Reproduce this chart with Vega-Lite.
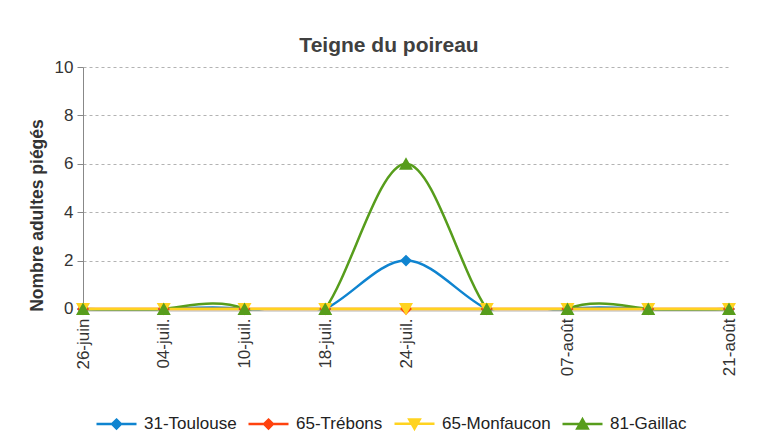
{
  "$schema": "https://vega.github.io/schema/vega-lite/v6.json",
  "width": 646,
  "height": 243.5,
  "autosize": {"type": "none"},
  "padding": {"left": 83, "top": 67, "right": 28, "bottom": 135.5},
  "background": "white",
  "title": {
    "text": "Teigne du poireau",
    "font": "Liberation Sans",
    "fontSize": 21,
    "fontWeight": "bold",
    "color": "#404040",
    "anchor": "middle",
    "dx": -17,
    "offset": 2
  },
  "config": {
    "view": {"stroke": null},
    "font": "Liberation Sans"
  },
  "data": {
    "values": [
      {"date": "26-juin", "series": "31-Toulouse", "value": 0},
      {"date": "04-juil.", "series": "31-Toulouse", "value": 0},
      {"date": "10-juil.", "series": "31-Toulouse", "value": 0},
      {"date": "18-juil.", "series": "31-Toulouse", "value": 0},
      {"date": "24-juil.", "series": "31-Toulouse", "value": 2},
      {"date": "31-juil.", "series": "31-Toulouse", "value": 0},
      {"date": "07-août", "series": "31-Toulouse", "value": 0},
      {"date": "14-août", "series": "31-Toulouse", "value": 0},
      {"date": "21-août", "series": "31-Toulouse", "value": 0},
      {"date": "26-juin", "series": "65-Trébons", "value": 0},
      {"date": "04-juil.", "series": "65-Trébons", "value": 0},
      {"date": "10-juil.", "series": "65-Trébons", "value": 0},
      {"date": "18-juil.", "series": "65-Trébons", "value": 0},
      {"date": "24-juil.", "series": "65-Trébons", "value": 0},
      {"date": "31-juil.", "series": "65-Trébons", "value": 0},
      {"date": "07-août", "series": "65-Trébons", "value": 0},
      {"date": "14-août", "series": "65-Trébons", "value": 0},
      {"date": "21-août", "series": "65-Trébons", "value": 0},
      {"date": "26-juin", "series": "65-Monfaucon", "value": 0},
      {"date": "04-juil.", "series": "65-Monfaucon", "value": 0},
      {"date": "10-juil.", "series": "65-Monfaucon", "value": 0},
      {"date": "18-juil.", "series": "65-Monfaucon", "value": 0},
      {"date": "24-juil.", "series": "65-Monfaucon", "value": 0},
      {"date": "31-juil.", "series": "65-Monfaucon", "value": 0},
      {"date": "07-août", "series": "65-Monfaucon", "value": 0},
      {"date": "14-août", "series": "65-Monfaucon", "value": 0},
      {"date": "21-août", "series": "65-Monfaucon", "value": 0},
      {"date": "26-juin", "series": "81-Gaillac", "value": 0},
      {"date": "04-juil.", "series": "81-Gaillac", "value": 0},
      {"date": "10-juil.", "series": "81-Gaillac", "value": 0},
      {"date": "18-juil.", "series": "81-Gaillac", "value": 0},
      {"date": "24-juil.", "series": "81-Gaillac", "value": 6},
      {"date": "31-juil.", "series": "81-Gaillac", "value": 0},
      {"date": "07-août", "series": "81-Gaillac", "value": 0},
      {"date": "14-août", "series": "81-Gaillac", "value": 0},
      {"date": "21-août", "series": "81-Gaillac", "value": 0}
    ]
  },
  "encoding": {
    "x": {
      "field": "date",
      "type": "ordinal",
      "sort": null,
      "scale": {"type": "point", "padding": 0},
      "axis": {
        "title": null,
        "labelAngle": -90,
        "labelFontSize": 17,
        "labelColor": "#333333",
        "labelPadding": 7.5,
        "ticks": false,
        "domainColor": "#b3b3b3",
        "grid": false,
        "labelExpr": "datum.label == '31-juil.' || datum.label == '14-août' ? '' : datum.label"
      }
    },
    "y": {
      "field": "value",
      "type": "quantitative",
      "scale": {"domain": [-0.062, 10], "nice": false, "zero": false},
      "axis": {
        "title": "Nombre adultes piégés",
        "titleFontSize": 17.5,
        "titleFontWeight": "bold",
        "titleColor": "#333333",
        "titleX": -37,
        "titleY": 148,
        "titleAngle": -90,
        "titleBaseline": "bottom",
        "values": [0, 2, 4, 6, 8, 10],
        "labelFontSize": 17,
        "labelColor": "#333333",
        "labelPadding": 4,
        "tickSize": 6,
        "tickColor": "#888888",
        "domainColor": "#888888",
        "gridColor": "#b3b3b3",
        "gridDash": [3, 3],
        "gridWidth": 1
      }
    },
    "color": {
      "field": "series",
      "type": "nominal",
      "scale": {
        "domain": ["31-Toulouse", "65-Trébons", "65-Monfaucon", "81-Gaillac"],
        "range": ["#0f84d0", "#ff420e", "#ffd320", "#579d1c"]
      }
    }
  },
  "layer": [
    {
      "mark": {"type": "line", "interpolate": "natural", "strokeWidth": 2.5, "clip": true}
    },
    {
      "transform": [{"filter": "datum.series == '65-Monfaucon'"}],
      "mark": {"type": "line", "interpolate": "natural", "strokeWidth": 2.5, "clip": true}
    },
    {
      "mark": {"type": "point", "filled": true, "opacity": 1, "size": 2900, "strokeWidth": 0},
      "encoding": {
        "shape": {
          "field": "series",
          "type": "nominal",
          "legend": null,
          "scale": {
            "domain": ["31-Toulouse", "65-Trébons", "65-Monfaucon", "81-Gaillac"],
            "range": [
              "M-1,0L1,0M0,-0.22L0.22,0L0,0.22L-0.22,0Z",
              "M-1,0L1,0M0,-0.22L0.22,0L0,0.22L-0.22,0Z",
              "M-1,0L1,0M0,0.24L0.26,-0.22L-0.26,-0.22Z",
              "M-1,0L1,0M0,-0.24L0.26,0.22L-0.26,0.22Z"
            ]
          }
        },
        "color": {
          "field": "series",
          "type": "nominal",
          "legend": {
            "title": null,
            "orient": "none",
            "direction": "horizontal",
            "legendX": 12,
            "legendY": 335,
            "labelFontSize": 17,
            "labelColor": "#222222",
            "labelOffset": 6,
            "columnPadding": 6,
            "symbolSize": 1600,
            "symbolStrokeWidth": 2.5,
            "encode": {
              "symbols": {
                "update": {
                  "stroke": {"signal": "scale('color', datum.value)"},
                  "strokeWidth": {"value": 2.5},
                  "fill": {"signal": "scale('color', datum.value)"},
                  "opacity": {"value": 1}
                }
              }
            }
          }
        }
      }
    }
  ]
}
